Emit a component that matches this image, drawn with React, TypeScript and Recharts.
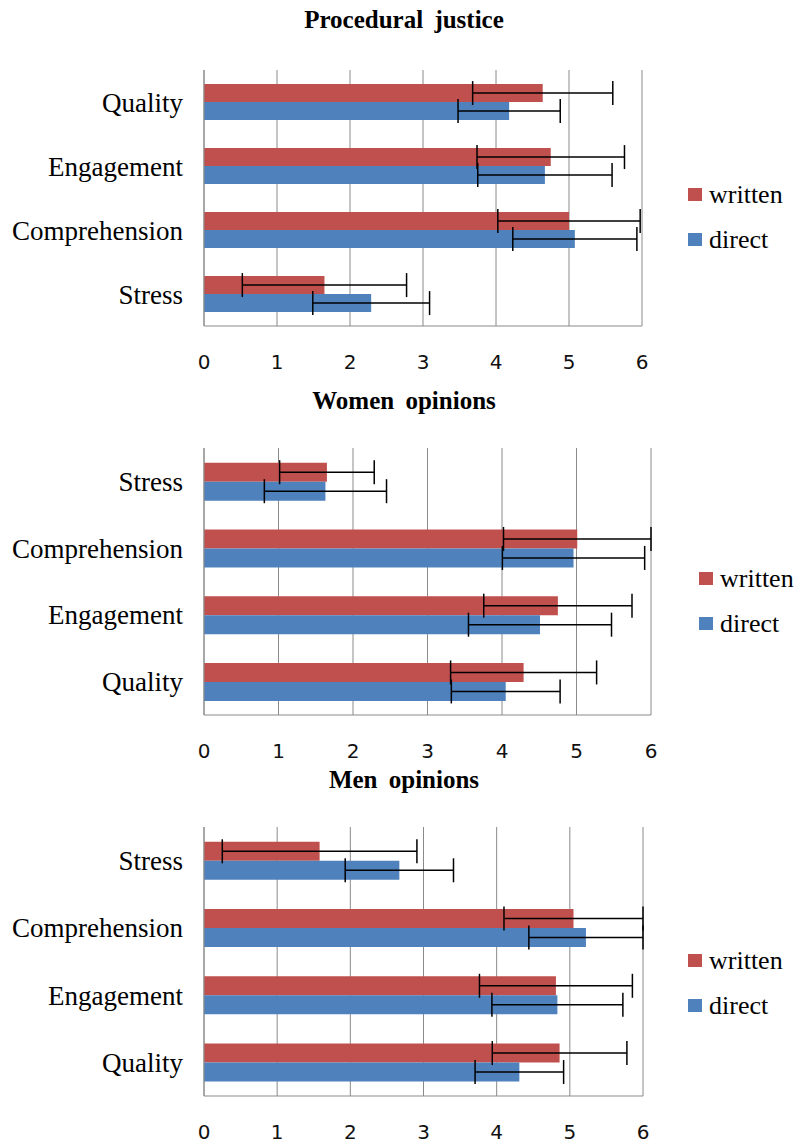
import { Bar, BarChart, CartesianGrid, ErrorBar, Legend, XAxis, YAxis } from "recharts";

const RED = "#c0504d";
const BLUE = "#4f81bd";
const GRID = "#8a8a8a";
const SERIF = "'Liberation Serif', 'Times New Roman', serif";
const SANS = "'DejaVu Sans', Verdana, sans-serif";

const xTicks = [0, 1, 2, 3, 4, 5, 6];
const seriesOrder = ["written", "direct"];

// Procedural justice (top to bottom)
const justiceCats = ["Quality", "Engagement", "Comprehension", "Stress"];
const justiceWritten = [4.64, 4.75, 5.0, 1.65];
const justiceWrittenErr = [0.96, 1.01, 0.975, 1.125];
const justiceDirect = [4.18, 4.67, 5.08, 2.29];
const justiceDirectErr = [0.7, 0.92, 0.85, 0.8];

// Women opinions
const womenCats = ["Stress", "Comprehension", "Engagement", "Quality"];
const womenWritten = [1.65, 5.01, 4.75, 4.29];
const womenWrittenErr = [0.635, 0.99, 0.995, 0.98];
const womenDirect = [1.63, 4.96, 4.51, 4.05];
const womenDirectErr = [0.82, 0.955, 0.96, 0.73];

// Men opinions
const menCats = ["Stress", "Comprehension", "Engagement", "Quality"];
const menWritten = [1.58, 5.05, 4.81, 4.86];
const menWrittenErr = [1.33, 0.95, 1.045, 0.92];
const menDirect = [2.67, 5.22, 4.83, 4.31];
const menDirectErr = [0.74, 0.78, 0.895, 0.605];

type Row = { name: string; written: number; writtenErr: number; direct: number; directErr: number };

const rows = (cats: string[], w: number[], we: number[], d: number[], de: number[]): Row[] =>
  cats.map((name, i) => ({ name, written: w[i], writtenErr: we[i], direct: d[i], directErr: de[i] }));

const renderLegend = (props: any) => {
  const items = [...(props.payload || [])].sort(
    (a: any, b: any) => seriesOrder.indexOf(a.value) - seriesOrder.indexOf(b.value)
  );
  return (
    <div style={{ fontFamily: SERIF, fontSize: 26, color: "#000" }}>
      {items.map((it: any) => (
        <div key={it.value} style={{ display: "flex", alignItems: "center", height: 45 }}>
          <span style={{ width: 14, height: 13, background: it.color, marginRight: 7, display: "inline-block" }} />
          <span style={{ lineHeight: 1 }}>{it.value}</span>
        </div>
      ))}
    </div>
  );
};

function Panel({
  title,
  data,
  top,
  titleY,
  height,
  marginTop,
  marginRight,
  legendLeft,
  legendTop,
}: {
  title: string;
  data: Row[];
  top: number;
  titleY: number;
  height: number;
  marginTop: number;
  marginRight: number;
  legendLeft: number;
  legendTop: number;
}) {
  return (
    <>
      <div
        style={{
          position: "absolute",
          left: 0,
          width: 808,
          top: titleY - 15,
          height: 30,
          lineHeight: "30px",
          textAlign: "center",
          fontFamily: SERIF,
          fontWeight: "bold",
          fontSize: 25,
          wordSpacing: 5,
        }}
      >
        {title}
      </div>
      <div style={{ position: "absolute", left: 0, top }}>
        <BarChart
          width={800}
          height={height}
          data={data}
          layout="vertical"
          margin={{ top: marginTop, right: marginRight, bottom: 0, left: 0 }}
          barCategoryGap="22%"
          barGap={0}
        >
          <CartesianGrid horizontal={false} stroke={GRID} />
          <XAxis
            type="number"
            domain={[0, 6]}
            ticks={xTicks}
            allowDataOverflow
            height={50}
            axisLine={{ stroke: GRID }}
            tickLine={false}
            tickSize={0}
            tickMargin={29}
            tick={{ fill: "#111", fontFamily: SANS, fontSize: 20 }}
          />
          <YAxis
            type="category"
            dataKey="name"
            width={204}
            interval={0}
            axisLine={{ stroke: GRID }}
            tickLine={false}
            tickSize={0}
            tickMargin={21}
            tick={{ fill: "#000", fontFamily: SERIF, fontSize: 27 }}
          />
          <Legend
            layout="vertical"
            align="center"
            verticalAlign="middle"
            wrapperStyle={{ left: legendLeft, top: legendTop }}
            content={renderLegend}
          />
          <Bar dataKey="written" name="written" fill={RED} isAnimationActive={false}>
            <ErrorBar dataKey="writtenErr" direction="x" width={12} stroke="#000" strokeWidth={1.5} isAnimationActive={false} />
          </Bar>
          <Bar dataKey="direct" name="direct" fill={BLUE} isAnimationActive={false}>
            <ErrorBar dataKey="directErr" direction="x" width={12} stroke="#000" strokeWidth={1.5} isAnimationActive={false} />
          </Bar>
        </BarChart>
      </div>
    </>
  );
}

export default function App() {
  return (
    <div style={{ position: "absolute", left: 0, top: 0, width: 800, height: 1146, background: "#fff" }}>
      <Panel
        title="Procedural justice"
        data={rows(justiceCats, justiceWritten, justiceWrittenErr, justiceDirect, justiceDirectErr)}
        top={0}
        titleY={20}
        height={376}
        marginTop={70}
        marginRight={158}
        legendLeft={688}
        legendTop={172}
      />
      <Panel
        title="Women opinions"
        data={rows(womenCats, womenWritten, womenWrittenErr, womenDirect, womenDirectErr)}
        top={380}
        titleY={401}
        height={385}
        marginTop={68}
        marginRight={149}
        legendLeft={699}
        legendTop={176}
      />
      <Panel
        title="Men opinions"
        data={rows(menCats, menWritten, menWrittenErr, menDirect, menDirectErr)}
        top={760}
        titleY={780}
        height={386}
        marginTop={67}
        marginRight={157}
        legendLeft={688}
        legendTop={178}
      />
    </div>
  );
}
